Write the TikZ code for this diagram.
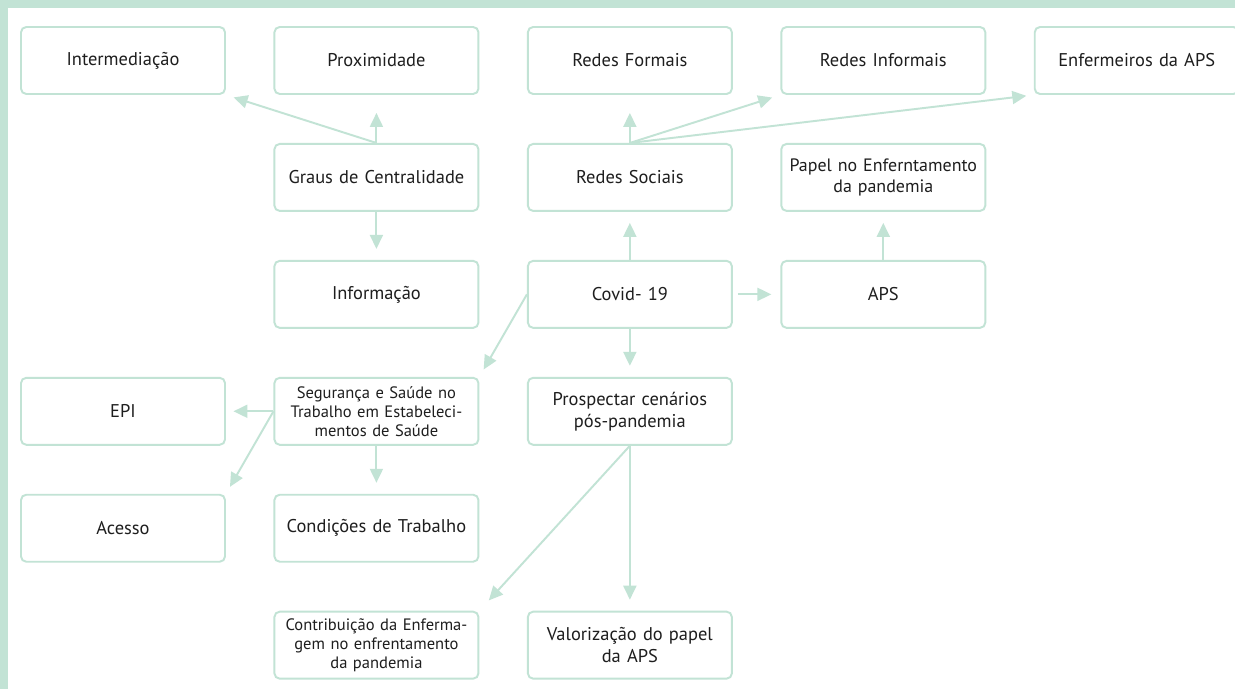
\documentclass[tikz,border=0pt]{standalone}
\usepackage{fontspec}
\setmainfont{PT Sans}
\usetikzlibrary{positioning, arrows.meta}
\definecolor{mint}{HTML}{C2E3D5}
\definecolor{ink}{HTML}{1E1E1E}

\begin{document}
\begin{tikzpicture}
    [box/.style={rectangle, rounded corners=3pt, draw=mint, line width=1.1pt, minimum width=4.08cm, minimum height=1.34cm, text width=3.9cm, align=center, inner sep=0pt, text=ink, font=\fontsize{10.5}{12.5}\selectfont},
    smallbox/.style={box, font=\fontsize{9.4}{10.8}\selectfont},
    link/.style={draw=mint, line width=1.1pt, -{Triangle[length=0.28cm, width=0.26cm]}, shorten >=0.22cm},
    node distance=0.96cm and 0.95cm]

    %Background
    \fill[mint] (0,0) rectangle (24.7,-13.78);
    \fill[white] (0.16,-0.16) rectangle (24.7,-13.78);
    \useasboundingbox (0,0) rectangle (24.7,-13.78);

    %Nodes
    \node[box](inter) at (2.46,-1.21){Intermediação};
    \node[box](prox)[right=of inter]{Proximidade};
    \node[box](formais)[right=of prox]{Redes Formais};
    \node[box](informais)[right=of formais]{Redes Informais};
    \node[box](enferm)[right=of informais]{Enfermeiros da APS};

    \node[box](graus)[below=of prox]{Graus de Centralidade};
    \node[box](sociais)[below=of formais]{Redes Sociais};
    \node[box, font=\fontsize{10.2}{11.6}\selectfont](papel)[below=of informais]{Papel no Enferntamento\\da pandemia};

    \node[box](info)[below=of graus]{Informação};
    \node[box](covid)[below=of sociais]{Covid- 19};
    \node[box](aps)[below=of papel]{APS};

    \node[smallbox](seg)[below=of info]{Segurança e Saúde no\\Trabalho em Estabeleci-\\mentos de Saúde};
    \node[box](prosp)[below=of covid]{Prospectar cenários\\pós-pandemia};
    \node[box](epi)[left=of seg]{EPI};

    \node[box](acesso)[below=of epi]{Acesso};
    \node[box](cond)[below=of seg]{Condições de Trabalho};

    \node[smallbox](contrib)[below=of cond]{Contribuição da Enferma-\\gem no enfrentamento\\da pandemia};
    \node[box](valor)[right=of contrib]{Valorização do papel\\da APS};

    %Lines
    \draw[link, shorten >=0.36cm](graus.north)--(prox);
    \draw[link, shorten >=0.16cm](graus.north)--(inter.south east);
    \draw[link](graus)--(info);

    \draw[link, shorten >=0.36cm](sociais.north)--(formais);
    \draw[link, shorten >=0.17cm](sociais.north)--(informais.south west);
    \draw[link, shorten >=0.15cm](sociais.north)--(enferm.south west);

    \draw[link](covid)--(sociais);
    \draw[link, shorten <=0.1cm, shorten >=0.18cm](covid)--(aps);
    \draw[link](aps)--(papel);
    \draw[link, shorten >=0.17cm](covid.west)--(seg.north east);
    \draw[link](covid)--(prosp);

    \draw[link, shorten >=0.15cm](seg)--(epi);
    \draw[link, shorten >=0.16cm](seg.west)--(acesso.north east);
    \draw[link](seg)--(cond);

    \draw[link, shorten >=0.28cm](prosp.south)--(contrib.north east);
    \draw[link](prosp)--(valor);
\end{tikzpicture}
\end{document}
